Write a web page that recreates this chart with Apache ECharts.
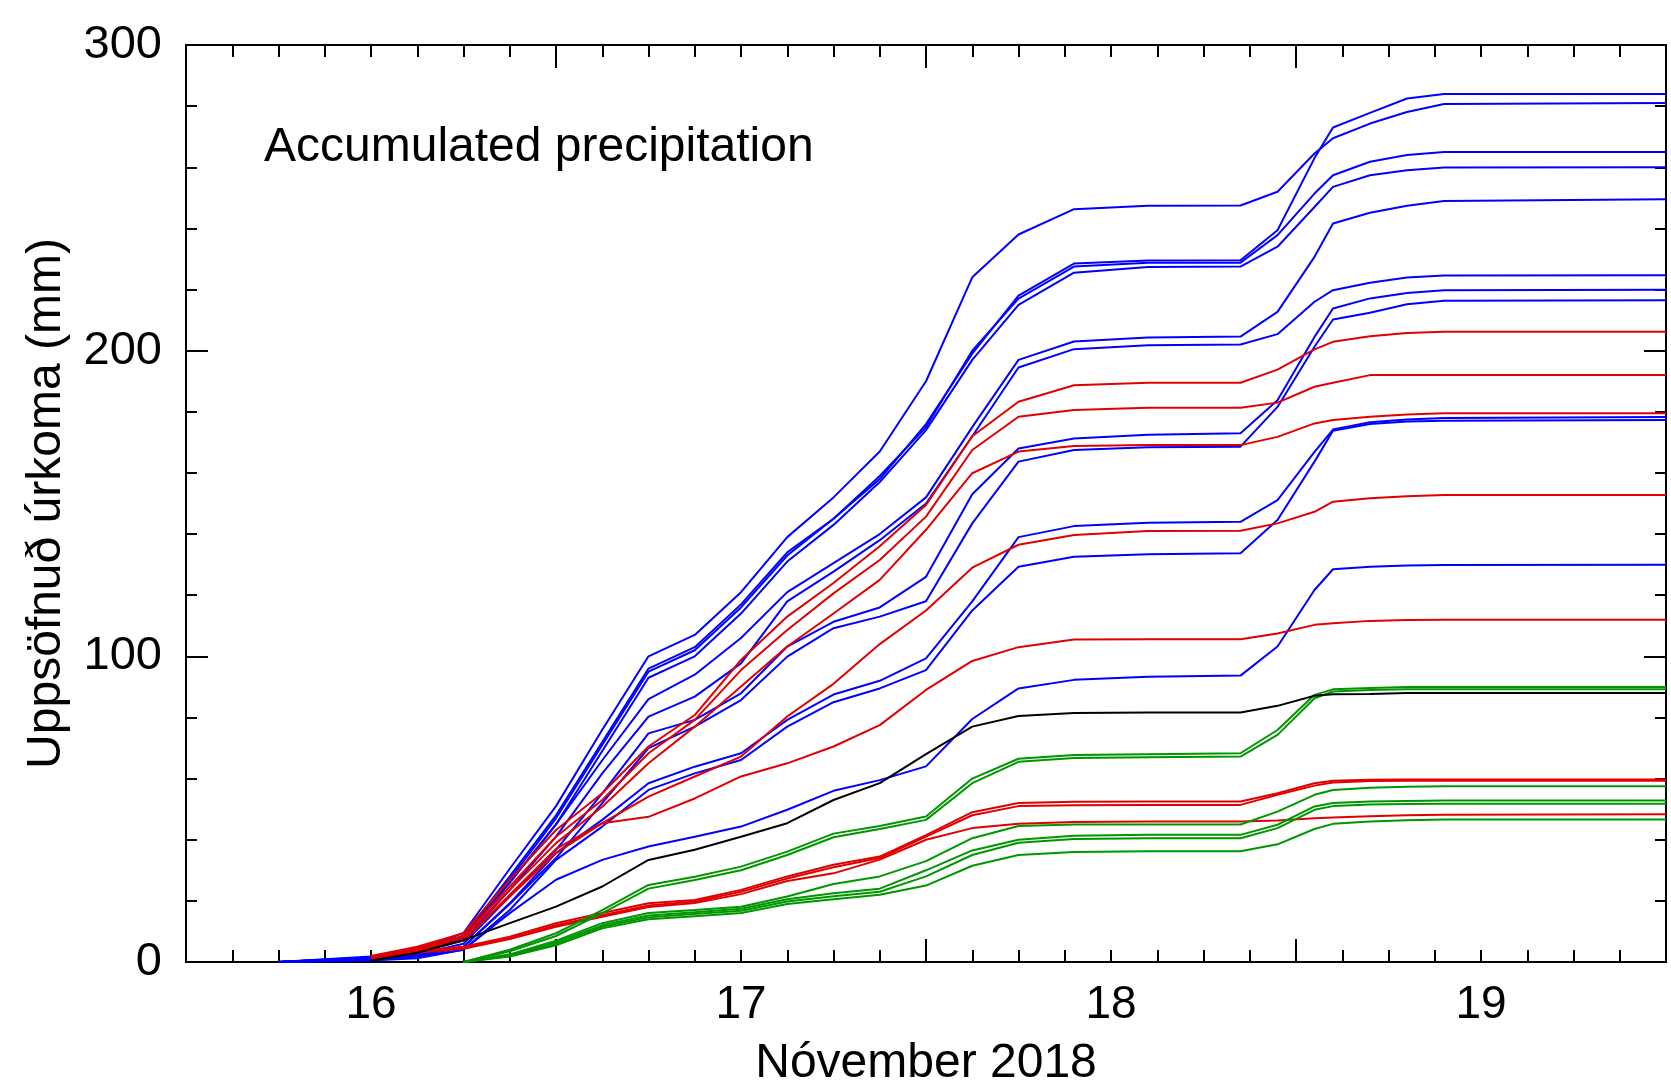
<!DOCTYPE html>
<html>
<head>
<meta charset="utf-8">
<script src="https://cdn.jsdelivr.net/npm/echarts@6/dist/echarts.min.js"></script>
<style>
html, body { margin: 0; padding: 0; background: #fff; }
#chart { width: 1671px; height: 1083px; }
</style>
</head>
<body>
<div id="chart"></div>
<script>
// time in days of November (16.5 = noon on the 16th)
var times = [16.25, 16.5, 16.625, 16.75, 16.875, 17.0, 17.125, 17.25, 17.375, 17.5, 17.625, 17.75, 17.875,
             18.0, 18.125, 18.25, 18.4, 18.6, 18.85, 18.95, 19.05, 19.1, 19.2, 19.3, 19.4, 20.0];

// accumulated precipitation (mm), one array per station
var blue1  = [0, 1.5, 3.5, 8.5, 28, 48, 72, 96, 103, 117, 134, 145, 158, 176, 199, 218, 228.5, 229.5, 229.6, 239.4, 263, 273, 277.8, 282.5, 284, 284];
var blue2  = [0, 1.8, 4, 9.5, 30.5, 51, 76, 100, 107, 121, 139, 152, 167, 190, 224, 238, 246.3, 247.4, 247.5, 252, 264.5, 269.5, 274.3, 278.1, 280.7, 281];
var blue3  = [0, 1.5, 3.5, 8.5, 27, 47, 71, 95, 102, 116, 133, 145, 159, 175, 200, 217, 227.5, 228.8, 228.8, 237.8, 251.4, 257.4, 261.8, 264, 265, 265];
var blue4  = [0, 1.3, 3.2, 8, 26, 45, 69, 93, 100, 114, 131, 143, 157, 174, 197, 215, 225.5, 227.4, 227.5, 234, 247, 253.6, 257.4, 259, 259.9, 260];
var blue5  = [0, 1.5, 3.5, 8, 26, 45, 66, 86, 94, 106, 121, 130.5, 140, 152, 175, 197, 203, 204.3, 204.6, 212.7, 230.7, 241.6, 245.1, 247.4, 249, 249.5];
var blue6  = [0, 1.3, 3, 7, 23.6, 41, 61.7, 80.3, 86.8, 97.7, 118, 127.7, 138, 150, 172, 194.5, 200.5, 201.8, 202, 205.4, 216, 219.8, 222.2, 223.9, 224.6, 224.7];
var blue7  = [0, 1, 2.5, 6, 21.4, 36.7, 55.2, 74.8, 79.2, 87.9, 103.2, 111.3, 116, 126, 153, 168, 171.3, 172.5, 173, 183.8, 204.5, 213.8, 217.1, 218.9, 219.8, 219.9];
var blue8  = [0, 0.8, 2.2, 5, 19, 34, 52, 70, 77, 85.7, 99.9, 109.2, 113, 118, 143.5, 163.7, 167.5, 168.4, 168.6, 181.6, 201.3, 210.2, 212.4, 215.2, 216.3, 216.5];
var blue9  = [0, 0.8, 2, 5, 19.2, 35.6, 46.5, 58.5, 63.9, 68.3, 79.2, 87.5, 92, 99.3, 118, 139, 142.6, 143.7, 144, 151.1, 166.9, 174.2, 176.6, 177.5, 178, 178.3];
var blue10 = [0, 0.7, 1.8, 4, 17, 33.4, 44.3, 56.3, 61.7, 66.1, 77, 85, 89.5, 95.5, 115, 129.3, 132.6, 133.4, 133.7, 144.6, 163.7, 173.8, 176, 176.8, 177.1, 177.3];
var blue11 = [0, 0.5, 1.2, 4, 16, 26.9, 33.4, 37.8, 41, 44.3, 49.8, 56, 59.5, 64, 79.5, 89.5, 92.3, 93.3, 93.7, 103.2, 121.7, 128.5, 129.3, 129.7, 129.9, 130];

var red1 = [null, 2, 5, 9.4, 26.9, 43.2, 55.2, 70.5, 80.8, 98.8, 113, 124, 136, 149.5, 172, 183.3, 188.7, 189.5, 189.5, 193.8, 200.4, 202.9, 204.7, 205.8, 206.2, 206.2];
var red2 = [null, 1.8, 4.5, 8.5, 24.7, 41, 53, 68.3, 79.2, 95.5, 108.6, 120.6, 131.5, 145.7, 167.5, 178.4, 180.6, 181.3, 181.3, 183, 188.2, 189.5, 192, 192, 192, 192];
var red3 = [null, 1.6, 4.2, 8, 23.6, 38.9, 50.8, 65, 77, 90.1, 103.2, 114, 125, 141.4, 159.9, 167, 168.8, 169.1, 169.1, 171.8, 176.2, 177.3, 178.4, 179.1, 179.5, 179.5];
var red4 = [null, 1.5, 4, 7, 21.4, 35.6, 45.4, 54.1, 60.7, 67.2, 80.3, 91, 104, 115, 129, 136.5, 139.7, 141, 141.1, 143.5, 147.3, 150.6, 151.7, 152.4, 152.8, 152.8];
var red5 = [null, 1.2, 3.5, 7, 22, 37, 45.4, 47.5, 53.5, 60.7, 65, 70.5, 77.5, 89, 98.5, 103, 105.5, 105.6, 105.6, 107.5, 110.3, 110.8, 111.6, 111.9, 112, 112];
var red6 = [null, 1, 3.5, 5, 8.3, 12.7, 16, 19.2, 20.3, 23.6, 28, 31.8, 34.5, 41.5, 49, 52, 52.4, 52.5, 52.5, 55.2, 58.5, 59.3, 59.6, 59.7, 59.7, 59.7];
var red7 = [null, 0.9, 3.2, 4.6, 7.8, 12, 15.3, 18.5, 19.8, 23, 27.3, 31, 34, 41, 48, 51, 51.3, 51.4, 51.4, 54.7, 57.7, 58.7, 59.2, 59.3, 59.3, 59.3];
var red8 = [null, 0.8, 3, 4.3, 7.5, 11.5, 14.8, 18, 19.3, 22.2, 26.5, 29, 33.5, 40, 43.8, 45.2, 45.8, 46, 46, 46.3, 47, 47.3, 47.7, 48, 48.2, 48.3];

var green1 = [null, null, null, 0, 4, 9.4, 17, 25.2, 27.9, 31.2, 36.1, 42, 44.5, 47.6, 60, 66.5, 67.7, 68, 68.3, 75.9, 87.4, 89.2, 89.6, 90, 90, 90];
var green2 = [null, null, null, 0, 3.5, 8.5, 16, 24, 26.8, 30, 35, 40.8, 43.5, 46.5, 58.5, 65.5, 66.7, 67, 67.2, 74.3, 86.3, 88.5, 89, 89.2, 89.2, 89.2];
var green3 = [null, null, null, 0, 2.5, 7, 12.7, 16, 17, 18.1, 21.4, 25.5, 28, 33, 40.5, 44.5, 45, 45, 45, 49.2, 54.7, 56.3, 57, 57.3, 57.5, 57.5];
var green4 = [null, null, null, 0, 2.2, 6.5, 12, 15.2, 16.3, 17.4, 20.5, 22.5, 24, 30, 36.5, 40, 41.3, 41.6, 41.6, 44.9, 50.9, 52, 52.5, 52.7, 52.8, 52.8];
var green5 = [null, null, null, 0, 2, 6, 11.5, 14.6, 15.7, 16.8, 19.8, 21.5, 23, 28, 35, 39, 40.2, 40.5, 40.5, 43.8, 49.8, 51, 51.5, 51.7, 51.8, 51.8];
var green6 = [null, null, null, 0, 1.8, 5.5, 11, 14, 15, 16, 19, 20.5, 22, 25, 31.5, 35, 36, 36.2, 36.2, 38.5, 43.5, 45.2, 46, 46.4, 46.6, 46.6];

var black1 = [null, 0.5, 3, 7.2, 12.7, 18.1, 24.7, 33.4, 36.7, 41, 45.4, 53, 58.5, 68, 77, 80.5, 81.5, 81.6, 81.6, 83.8, 87.1, 87.6, 87.7, 88, 88, 88];

var yTicks = [0, 100, 200, 300];

var groups = [
    { color: '#0000ff', lines: [blue1, blue2, blue3, blue4, blue5, blue6, blue7, blue8, blue9, blue10, blue11] },
    { color: '#e00000', lines: [red1, red2, red3, red4, red5, red6, red7, red8] },
    { color: '#009600', lines: [green1, green2, green3, green4, green5, green6] },
    { color: '#000000', lines: [black1] }
];

var FONT = 'Liberation Sans';
var myChart = echarts.init(document.getElementById('chart'));

var series = [];
groups.forEach(function (g) {
    g.lines.forEach(function (vals) {
        series.push({
            type: 'line',
            data: times.map(function (t, i) { return [t, vals[i]]; }),
            showSymbol: false,
            symbol: 'none',
            silent: true,
            lineStyle: { color: g.color, width: 2 },
            itemStyle: { color: g.color }
        });
    });
});

function xAx(pos, interval, len, labels) {
    return {
        type: 'value', position: pos, min: 16, max: 20, interval: interval,
        axisLine: { show: true, onZero: false, lineStyle: { color: '#000', width: 2 } },
        axisTick: { show: true, inside: true, length: len, lineStyle: { color: '#000', width: 2 } },
        splitLine: { show: false },
        axisLabel: labels ? {
            show: true, color: '#000', fontSize: 46, fontFamily: FONT, margin: 20,
            showMinLabel: true, showMaxLabel: true,
            formatter: function (v) {
                return Math.abs(v - Math.floor(v) - 0.5) < 1e-6 ? String(Math.floor(v)) : '';
            }
        } : { show: false },
        name: labels ? 'Nóvember 2018' : '',
        nameLocation: 'middle',
        nameGap: 78,
        nameTextStyle: { color: '#000', fontSize: 48, fontFamily: FONT }
    };
}

function yAx(pos, interval, len, labels) {
    return {
        type: 'value', position: pos, min: 0, max: 300, interval: interval,
        axisLine: { show: true, onZero: false, lineStyle: { color: '#000', width: 2 } },
        axisTick: { show: true, inside: true, length: len, lineStyle: { color: '#000', width: 2 } },
        splitLine: { show: false },
        axisLabel: labels ? {
            show: true, color: '#000', fontSize: 47, fontFamily: FONT, margin: 24,
            formatter: function (v) { return yTicks.indexOf(v) >= 0 ? String(v) : ''; }
        } : { show: false },
        name: labels ? 'Uppsöfnuð úrkoma (mm)' : '',
        nameLocation: 'middle',
        nameGap: 115,
        nameTextStyle: { color: '#000', fontSize: 48, fontFamily: FONT }
    };
}

option = {
    animation: false,
    grid: { left: 186, right: 5, top: 45, bottom: 121, containLabel: false, outerBoundsMode: 'none' },
    xAxis: [
        xAx('bottom', 0.125, 12, true),
        xAx('bottom', 1, 23, false),
        xAx('top', 0.125, 12, false),
        xAx('top', 1, 23, false)
    ],
    yAxis: [
        yAx('left', 20, 11, true),
        yAx('left', 100, 22, false),
        yAx('right', 20, 11, false),
        yAx('right', 100, 22, false)
    ],
    graphic: [{
        type: 'text', left: 264, top: 124,
        style: { text: 'Accumulated precipitation', fontSize: 48, fontFamily: FONT, fill: '#000' }
    }],
    series: series
};
myChart.setOption(option);
</script>
</body>
</html>
